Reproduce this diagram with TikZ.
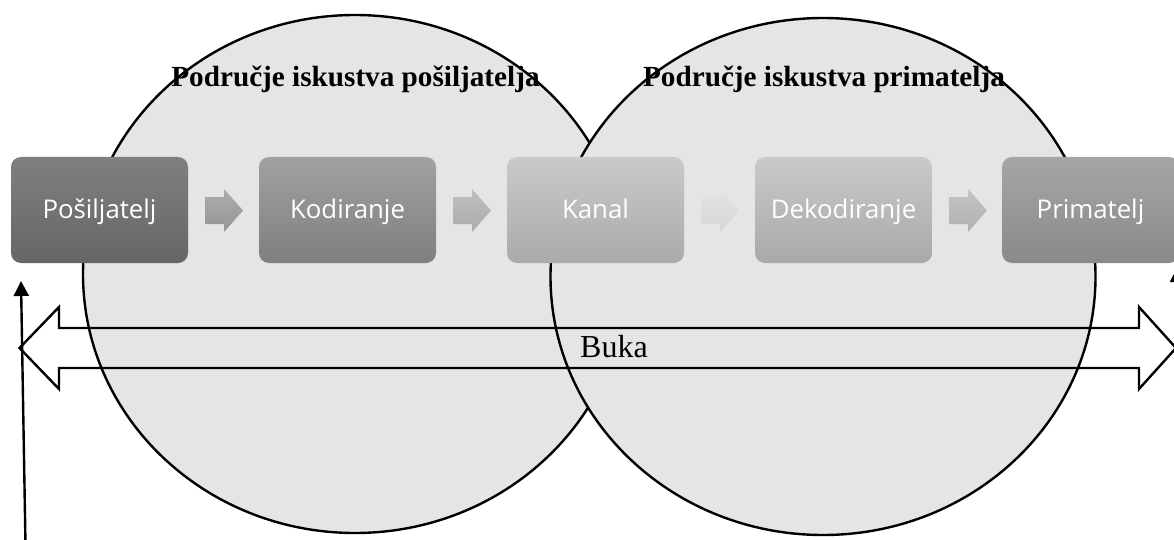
\documentclass[tikz,border=0pt]{standalone}
\usepackage{fontspec}
\setmainfont{Liberation Serif}
\newfontfamily\boxfont{Open Sans}
\usetikzlibrary{arrows.meta}
\tikzset{
  x=1pt,y=-1pt,
  area/.style={draw=black,line width=2.4pt,fill=areagray},
  stagebox/.style={rectangle,rounded corners=10pt,minimum width=177pt,minimum height=106pt,
    inner sep=0pt,text=white,text height=20pt,text depth=4pt,font=\boxfont\fontsize{25.8pt}{29pt}\selectfont},
  areatitle/.style={font=\bfseries\fontsize{29.2pt}{33pt}\selectfont,text=black,inner sep=0pt},
  noise/.style={draw=black,line width=2.4pt,line join=miter},
  pointer/.style={draw=black,line width=2.4pt,-{Triangle[length=15pt,width=15pt]}},
}
\definecolor{areagray}{HTML}{E5E5E5}
\newcommand{\chev}[3]{\path[top color=#2,bottom color=#3,shading angle=0] (#1,197) -- ++(19,0) -- ++(0,-8) -- ++(19,21.5) -- ++(-19,21.5) -- ++(0,-8) -- ++(-19,0) -- cycle;}
\begin{document}
\begin{tikzpicture}
\useasboundingbox (0,0) rectangle (1174,540);
\clip (0,0) rectangle (1174,540);
\draw[area] (355,274) ellipse [x radius=272,y radius=259];
\draw[area] (823,276.5) ellipse [x radius=272.5,y radius=258.5];
\node[areatitle] (t1) at (355.5,79) {Područje iskustva pošiljatelja};
\node[areatitle] (t2) at (824,79) {Područje iskustva primatelja};
\node[stagebox,top color=black!50,bottom color=black!60] (b1) at (99.5,210) {Pošiljatelj};
\node[stagebox,top color=black!37,bottom color=black!50] (b2) at (347.5,210) {Kodiranje};
\node[stagebox,top color=black!21,bottom color=black!33] (b3) at (595.5,210) {Kanal};
\node[stagebox,top color=black!21,bottom color=black!34] (b4) at (843.5,210) {Dekodiranje};
\node[stagebox,top color=black!35,bottom color=black!46] (b5) at (1090.5,210) {Primatelj};
\chev{205}{black!32}{black!42}
\chev{453}{black!25}{black!33}
\chev{701}{black!11}{black!16}
\chev{949}{black!23}{black!31}
\coordinate (nl) at (19.5,348);
\coordinate (nr) at (1176,348);
\draw[noise] (nl) -- (59,307) -- (59,328) -- (1139,328) -- (1139,307) -- (nr) -- (1139,389) -- (1139,368) -- (59,368) -- (59,389) -- cycle;
\node[font=\fontsize{32pt}{36pt}\selectfont,inner sep=0pt] (buka) at (614,347) {Buka};
\coordinate (s1) at (25.5,545);
\coordinate (e1) at (21,281);
\coordinate (s2) at (1178,545);
\coordinate (e2) at (1177.5,267);
\draw[pointer] (s1) -- (e1);
\draw[pointer] (s2) -- (e2);
\end{tikzpicture}
\end{document}
